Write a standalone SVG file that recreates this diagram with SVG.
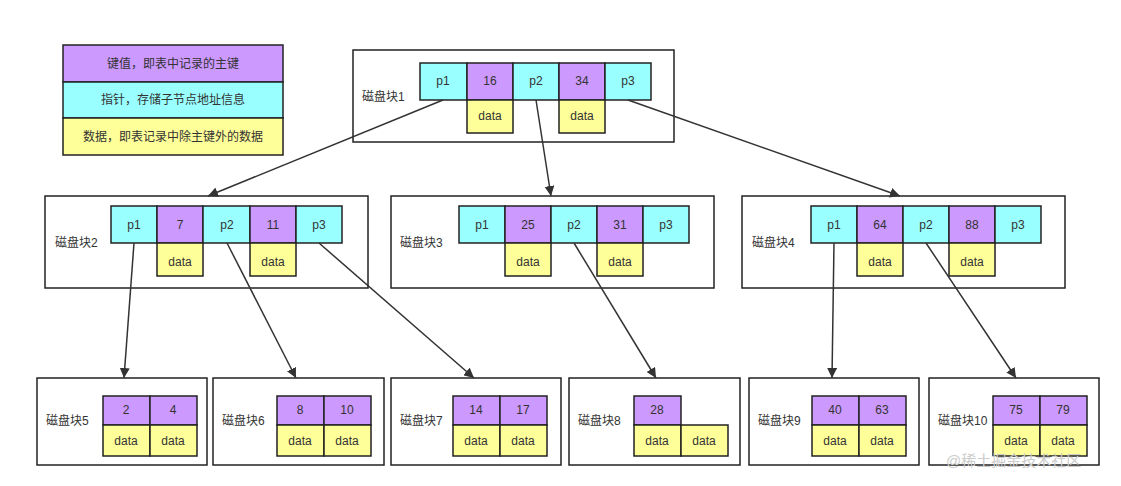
<svg xmlns="http://www.w3.org/2000/svg" width="1121" height="486" viewBox="0 0 1121 486">
<defs>
<marker id="ah" viewBox="0 0 10 10" refX="10" refY="5" markerWidth="10" markerHeight="10" markerUnits="userSpaceOnUse" orient="auto"><path d="M0,0 L10,5 L0,10 z" fill="#333"/></marker>
</defs>
<style>
text{font-family:"Liberation Sans","Noto Sans CJK SC",sans-serif;font-size:12px;fill:#333;dominant-baseline:central}
.c{text-anchor:middle}
.blk{fill:#fff;stroke:#222;stroke-width:1.5}
.k{fill:#cc99ff;stroke:#222;stroke-width:1.5}
.p{fill:#99ffff;stroke:#222;stroke-width:1.5}
.d{fill:#ffff99;stroke:#222;stroke-width:1.5}
.e{stroke:#333;stroke-width:1.5;fill:none;marker-end:url(#ah)}
</style>
<rect width="1121" height="486" fill="#fff"/>
<g id="legend">
<rect class="k" x="63" y="45" width="220" height="37"/><text class="c" x="173" y="64">键值，即表中记录的主键</text>
<rect class="p" x="63" y="82" width="220" height="36"/><text class="c" x="173" y="100">指针，存储子节点地址信息</text>
<rect class="d" x="63" y="118" width="220" height="37"/><text class="c" x="173" y="137">数据，即表记录中除主键外的数据</text>
</g>
<g id="block1">
<rect class="blk" x="353" y="50" width="321" height="92"/><text x="362" y="97">磁盘块1</text>
<rect class="p" x="420" y="63" width="47" height="37"/><text class="c" x="443" y="81">p1</text>
<rect class="k" x="467" y="63" width="46" height="37"/><text class="c" x="490" y="81">16</text>
<rect class="p" x="513" y="63" width="46" height="37"/><text class="c" x="536" y="81">p2</text>
<rect class="k" x="559" y="63" width="46" height="37"/><text class="c" x="582" y="81">34</text>
<rect class="p" x="605" y="63" width="46" height="37"/><text class="c" x="628" y="81">p3</text>
<rect class="d" x="467" y="100" width="46" height="33"/><text class="c" x="490" y="116">data</text>
<rect class="d" x="559" y="100" width="46" height="33"/><text class="c" x="582" y="116">data</text>
</g>
<g id="block2">
<rect class="blk" x="45" y="196" width="323" height="92"/><text x="55" y="243">磁盘块2</text>
<rect class="p" x="111" y="206" width="46" height="37"/><text class="c" x="134" y="225">p1</text>
<rect class="k" x="157" y="206" width="46" height="37"/><text class="c" x="180" y="225">7</text>
<rect class="p" x="203" y="206" width="47" height="37"/><text class="c" x="227" y="225">p2</text>
<rect class="k" x="250" y="206" width="46" height="37"/><text class="c" x="273" y="225">11</text>
<rect class="p" x="296" y="206" width="46" height="37"/><text class="c" x="319" y="225">p3</text>
<rect class="d" x="157" y="243" width="46" height="33"/><text class="c" x="180" y="262">data</text>
<rect class="d" x="250" y="243" width="46" height="33"/><text class="c" x="273" y="262">data</text>
</g>
<g id="block3">
<rect class="blk" x="391" y="196" width="323" height="92"/><text x="400" y="243">磁盘块3</text>
<rect class="p" x="459" y="206" width="46" height="37"/><text class="c" x="482" y="225">p1</text>
<rect class="k" x="505" y="206" width="46" height="37"/><text class="c" x="528" y="225">25</text>
<rect class="p" x="551" y="206" width="46" height="37"/><text class="c" x="574" y="225">p2</text>
<rect class="k" x="597" y="206" width="46" height="37"/><text class="c" x="620" y="225">31</text>
<rect class="p" x="643" y="206" width="46" height="37"/><text class="c" x="666" y="225">p3</text>
<rect class="d" x="505" y="243" width="46" height="33"/><text class="c" x="528" y="262">data</text>
<rect class="d" x="597" y="243" width="46" height="33"/><text class="c" x="620" y="262">data</text>
</g>
<g id="block4">
<rect class="blk" x="742" y="196" width="323" height="92"/><text x="752" y="243">磁盘块4</text>
<rect class="p" x="811" y="206" width="46" height="37"/><text class="c" x="834" y="225">p1</text>
<rect class="k" x="857" y="206" width="46" height="37"/><text class="c" x="880" y="225">64</text>
<rect class="p" x="903" y="206" width="46" height="37"/><text class="c" x="926" y="225">p2</text>
<rect class="k" x="949" y="206" width="46" height="37"/><text class="c" x="972" y="225">88</text>
<rect class="p" x="995" y="206" width="46" height="37"/><text class="c" x="1018" y="225">p3</text>
<rect class="d" x="857" y="243" width="46" height="33"/><text class="c" x="880" y="262">data</text>
<rect class="d" x="949" y="243" width="46" height="33"/><text class="c" x="972" y="262">data</text>
</g>
<g id="block5">
<rect class="blk" x="37" y="378" width="170" height="87"/><text x="46" y="421">磁盘块5</text>
<rect class="k" x="103" y="396" width="47" height="29"/><text class="c" x="126" y="410">2</text>
<rect class="k" x="150" y="396" width="47" height="29"/><text class="c" x="173" y="410">4</text>
<rect class="d" x="103" y="425" width="47" height="31"/><text class="c" x="126" y="441">data</text>
<rect class="d" x="150" y="425" width="47" height="31"/><text class="c" x="173" y="441">data</text>
</g>
<g id="block6">
<rect class="blk" x="213" y="378" width="171" height="87"/><text x="222" y="421">磁盘块6</text>
<rect class="k" x="277" y="396" width="47" height="29"/><text class="c" x="300" y="410">8</text>
<rect class="k" x="324" y="396" width="47" height="29"/><text class="c" x="347" y="410">10</text>
<rect class="d" x="277" y="425" width="47" height="31"/><text class="c" x="300" y="441">data</text>
<rect class="d" x="324" y="425" width="47" height="31"/><text class="c" x="347" y="441">data</text>
</g>
<g id="block7">
<rect class="blk" x="391" y="378" width="170" height="87"/><text x="400" y="421">磁盘块7</text>
<rect class="k" x="453" y="396" width="47" height="29"/><text class="c" x="476" y="410">14</text>
<rect class="k" x="500" y="396" width="47" height="29"/><text class="c" x="523" y="410">17</text>
<rect class="d" x="453" y="425" width="47" height="31"/><text class="c" x="476" y="441">data</text>
<rect class="d" x="500" y="425" width="47" height="31"/><text class="c" x="523" y="441">data</text>
</g>
<g id="block8">
<rect class="blk" x="569" y="378" width="171" height="87"/><text x="578" y="421">磁盘块8</text>
<rect class="k" x="634" y="396" width="47" height="29"/><text class="c" x="657" y="410">28</text>
<rect class="d" x="634" y="425" width="47" height="31"/><text class="c" x="657" y="441">data</text>
<rect class="d" x="681" y="425" width="47" height="31"/><text class="c" x="704" y="441">data</text>
</g>
<g id="block9">
<rect class="blk" x="749" y="378" width="170" height="87"/><text x="758" y="421">磁盘块9</text>
<rect class="k" x="812" y="396" width="47" height="29"/><text class="c" x="835" y="410">40</text>
<rect class="k" x="859" y="396" width="47" height="29"/><text class="c" x="882" y="410">63</text>
<rect class="d" x="812" y="425" width="47" height="31"/><text class="c" x="835" y="441">data</text>
<rect class="d" x="859" y="425" width="47" height="31"/><text class="c" x="882" y="441">data</text>
</g>
<g id="block10">
<rect class="blk" x="929" y="378" width="170" height="87"/><text x="938" y="421">磁盘块10</text>
<rect class="k" x="993" y="396" width="47" height="29"/><text class="c" x="1016" y="410">75</text>
<rect class="k" x="1040" y="396" width="47" height="29"/><text class="c" x="1063" y="410">79</text>
<rect class="d" x="993" y="425" width="47" height="31"/><text class="c" x="1016" y="441">data</text>
<rect class="d" x="1040" y="425" width="47" height="31"/><text class="c" x="1063" y="441">data</text>
</g>
<g id="connectors">
<line class="e" x1="443" y1="100" x2="208" y2="196"/>
<line class="e" x1="536" y1="100" x2="551" y2="196"/>
<line class="e" x1="628" y1="100" x2="900" y2="196"/>
<line class="e" x1="134" y1="243" x2="124" y2="378"/>
<line class="e" x1="227" y1="243" x2="296" y2="378"/>
<line class="e" x1="319" y1="243" x2="474" y2="378"/>
<line class="e" x1="574" y1="243" x2="656" y2="378"/>
<line class="e" x1="834" y1="243" x2="832" y2="378"/>
<line class="e" x1="926" y1="243" x2="1016" y2="378"/>
</g>
<text x="946" y="460" style="font-size:15px;fill:#ccc">@稀土掘金技术社区</text>
</svg>
